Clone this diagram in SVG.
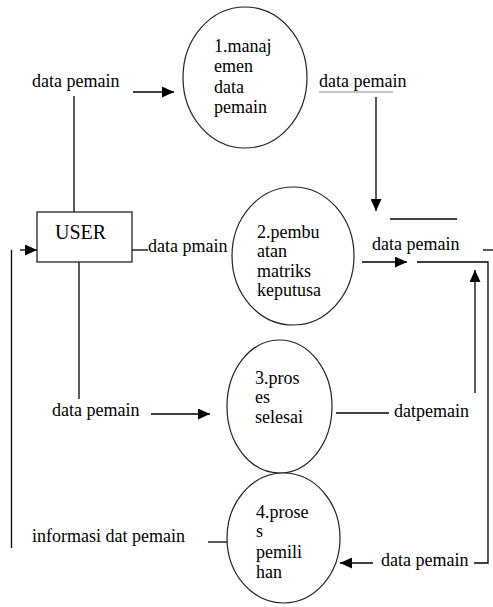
<svg xmlns="http://www.w3.org/2000/svg" width="493" height="607" viewBox="0 0 493 607" font-family="Liberation Serif, Times New Roman, serif">
<style>
text{font-family:'Liberation Serif','Times New Roman',serif;font-size:18px;fill:#000}
.ln{stroke:#000;stroke-width:1.3;fill:none}
.proc{fill:#fff;stroke:#222;stroke-width:1.2}
</style>
<defs>
<marker id="arr" markerUnits="userSpaceOnUse" markerWidth="13" markerHeight="11" refX="12" refY="5.5" orient="auto">
<path d="M0,0 L12,5.5 L0,11 z" fill="#000"/>
</marker>
</defs>
<rect width="493" height="607" fill="#fff"/>
<g id="connectors">
<line class="ln" x1="74" y1="96" x2="74" y2="212"/>
<line class="ln" x1="79" y1="262" x2="79" y2="399"/>
<line class="ln" x1="132" y1="250" x2="148" y2="250"/>
<line class="ln" x1="11.5" y1="250" x2="11.5" y2="548"/>
<line class="ln" x1="20" y1="250" x2="37" y2="250" marker-end="url(#arr)"/>
<line class="ln" x1="133" y1="92" x2="174" y2="92" marker-end="url(#arr)"/>
<line x1="319" y1="92" x2="393" y2="92" stroke="#888" stroke-width="1.2"/>
<line class="ln" x1="376" y1="97" x2="376" y2="211" marker-end="url(#arr)"/>
<line class="ln" x1="362" y1="262" x2="407" y2="262" marker-end="url(#arr)"/>
<line class="ln" x1="475" y1="393" x2="475" y2="270" marker-end="url(#arr)"/>
<line class="ln" x1="151" y1="414" x2="210" y2="414" marker-end="url(#arr)"/>
<line class="ln" x1="373" y1="563" x2="340" y2="563" marker-end="url(#arr)"/>
<line class="ln" x1="336" y1="413" x2="389" y2="413"/>
<line class="ln" x1="208" y1="542" x2="230" y2="542"/>
<polyline class="ln" points="417,262 488,262 488,563 474,563"/>
<line class="ln" x1="483" y1="250" x2="493" y2="250"/>
<text x="32" y="87">data pemain</text>
<text x="319" y="87">data pemain</text>
<text x="148" y="252">data pmain</text>
<text x="52" y="416">data pemain</text>
<text x="394" y="417">datpemain</text>
<text x="32" y="542">informasi dat pemain</text>
<text x="381" y="566">data pemain</text>
</g>
<g id="store">
<line class="ln" x1="390" y1="219" x2="457" y2="219"/>
<text x="372" y="250">data pemain</text>
</g>
<g id="user">
<rect x="37" y="212" width="95" height="50" fill="#fff" stroke="#222" stroke-width="1.3"/>
<text x="55" y="239" style="font-size:20px">USER</text>
</g>
<g id="p1">
<ellipse class="proc" cx="245" cy="77.5" rx="62" ry="70.5"/>
<text x="214" y="52">1.manaj</text>
<text x="214" y="72">emen</text>
<text x="214" y="93">data</text>
<text x="214" y="113">pemain</text>
</g>
<g id="p2">
<ellipse class="proc" cx="293" cy="256" rx="61" ry="69"/>
<text x="257" y="238">2.pembu</text>
<text x="257" y="257">atan</text>
<text x="257" y="277">matriks</text>
<text x="257" y="296">keputusa</text>
</g>
<g id="p3">
<ellipse class="proc" cx="279.5" cy="406.5" rx="52.5" ry="66.5"/>
<text x="255" y="384">3.pros</text>
<text x="255" y="403">es</text>
<text x="255" y="423">selesai</text>
</g>
<g id="p4">
<ellipse class="proc" cx="283.5" cy="538" rx="56.5" ry="65"/>
<text x="256" y="518">4.prose</text>
<text x="256" y="537">s</text>
<text x="256" y="558">pemili</text>
<text x="256" y="578">han</text>
</g>
</svg>
